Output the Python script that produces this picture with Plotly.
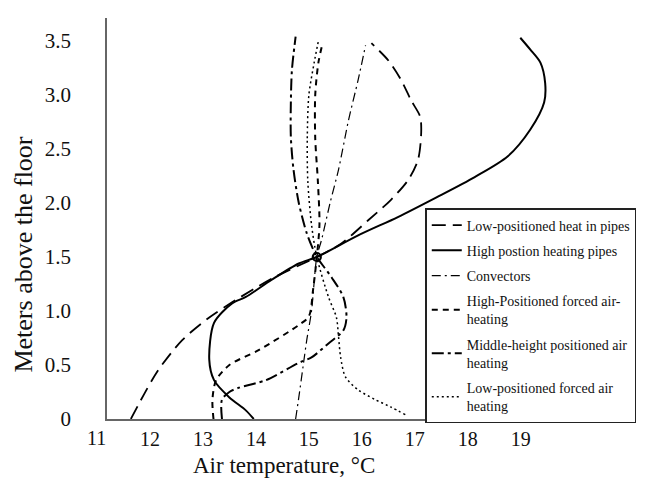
import plotly.graph_objects as go

# ---- data (air temperature in °C vs. height in m) ----
series_names = [
    "Low-positioned heat in pipes",
    "High postion heating pipes",
    "Convectors",
    "High-Positioned forced air-<br>heating",
    "Middle-height positioned air<br>heating",
    "Low-positioned forced air<br>heating",
]

low_pipes_T = [11.64, 12.14, 12.61, 13.12, 13.55, 14.3, 15.15, 15.6, 16.12, 16.55, 16.87, 17.06, 17.12, 17.1, 16.93, 16.74, 16.5, 16.18]
low_pipes_h = [0, 0.44, 0.73, 0.94, 1.08, 1.3, 1.5, 1.62, 1.84, 2.03, 2.21, 2.4, 2.65, 2.8, 2.95, 3.14, 3.32, 3.48]

high_pipes_T = [13.96, 13.81, 13.5, 13.21, 13.12, 13.21, 13.55, 13.81, 14.3, 14.81, 15.15, 15.93, 16.68, 17.4, 18.13, 18.75, 19.18, 19.44, 19.46, 19.37, 19.18, 18.99]
high_pipes_h = [0, 0.08, 0.2, 0.36, 0.55, 0.89, 1.07, 1.13, 1.29, 1.44, 1.5, 1.7, 1.87, 2.05, 2.24, 2.43, 2.68, 2.93, 3.11, 3.3, 3.42, 3.53]

convectors_T = [14.75, 14.81, 14.9, 14.96, 15.05, 15.15, 15.24, 15.4, 15.56, 15.75, 15.93, 16.07]
convectors_h = [0, 0.2, 0.52, 0.73, 1.0, 1.5, 1.66, 2.0, 2.31, 2.77, 3.14, 3.46]

high_forced_T = [13.2, 13.18, 13.25, 13.5, 14.06, 14.81, 15.0, 15.08, 15.15, 15.2, 15.17, 15.12, 15.12, 15.18, 15.26]
high_forced_h = [0, 0.18, 0.36, 0.5, 0.64, 0.87, 0.95, 1.2, 1.5, 1.8, 2.2, 2.6, 3.0, 3.3, 3.48]

middle_T = [13.36, 13.36, 13.5, 13.68, 14.19, 14.81, 15.05, 15.37, 15.65, 15.71, 15.65, 15.43, 15.15, 15.09, 14.96, 14.81, 14.71, 14.66, 14.66, 14.68, 14.75]
middle_h = [0, 0.18, 0.25, 0.29, 0.36, 0.52, 0.57, 0.70, 0.82, 0.94, 1.13, 1.31, 1.5, 1.56, 1.72, 2.0, 2.31, 2.61, 2.93, 3.23, 3.54]

low_forced_T = [16.82, 16.55, 16.25, 15.93, 15.69, 15.6, 15.56, 15.52, 15.37, 15.15, 15.05, 14.98, 14.97, 15.0, 15.1, 15.18]
low_forced_h = [0.04, 0.11, 0.18, 0.27, 0.39, 0.57, 0.76, 0.94, 1.13, 1.5, 1.8, 2.2, 2.6, 3.0, 3.3, 3.5]

meeting_T = [15.15]
meeting_h = [1.5]

x_ticks = [12, 13, 14, 15, 16, 17, 18, 19]
first_x_label = "11"
y_ticks = [0, 0.5, 1.0, 1.5, 2.0, 2.5, 3.0, 3.5]
y_ticktext = ["0", "0.5", "1.0", "1.5", "2.0", "2.5", "3.0", "3.5"]

# ---- styles ----
FONT = "Liberation Serif"
X_MIN, X_MAX = 11.19, 20.91
styles = [
    dict(width=1.8, dash="14px,7px"),
    dict(width=2.0, dash="solid"),
    dict(width=1.2, dash="9px,4px,2px,4px"),
    dict(width=2.0, dash="6px,5px"),
    dict(width=2.0, dash="12px,4px,3px,4px"),
    dict(width=1.5, dash="2px,3px"),
]
data = [
    (low_pipes_T, low_pipes_h),
    (high_pipes_T, high_pipes_h),
    (convectors_T, convectors_h),
    (high_forced_T, high_forced_h),
    (middle_T, middle_h),
    (low_forced_T, low_forced_h),
]

fig = go.Figure()
for i, (name, (tx, hy), st) in enumerate(zip(series_names, data, styles)):
    fig.add_trace(go.Scatter(
        x=tx, y=hy, name=name, mode="lines",
        line=dict(color="black", width=st["width"], dash=st["dash"], shape="spline", smoothing=0.8),
        legendgroup=f"g{i}",
    ))

fig.add_trace(go.Scatter(
    x=meeting_T, y=meeting_h, mode="markers", showlegend=False,
    marker=dict(symbol="circle-open", size=8, color="black", line=dict(width=2.2, color="black")),
))

fig.update_layout(
    width=648, height=488, autosize=False,
    margin=dict(l=107, r=23, t=18, b=69, pad=0),
    paper_bgcolor="white", plot_bgcolor="white",
    font=dict(family=FONT, color="#111"),
    showlegend=True,
    legend=dict(
        x=0.618, y=0.526, xanchor="left", yanchor="top",
        bordercolor="#222", borderwidth=1.5, bgcolor="white",
        font=dict(family=FONT, size=14, color="#111"),
        tracegroupgap=4,
    ),
)
fig.update_xaxes(
    range=[X_MIN, X_MAX], tickvals=x_ticks,
    showline=True, linecolor="#666", linewidth=1.5, mirror=False,
    showgrid=False, zeroline=False, ticks="",
    tickfont=dict(family=FONT, size=20, color="#111"),
    ticklabelstandoff=1,
)
fig.update_yaxes(
    range=[0, 3.713], tickvals=y_ticks, ticktext=y_ticktext,
    showline=True, linecolor="#666", linewidth=1.5,
    showgrid=False, zeroline=False, ticks="",
    tickfont=dict(family=FONT, size=21, color="#111"),
    ticklabelstandoff=30,
)

# the "11" label lies left of the axis line, so it is placed in paper units
x11_paper = (11 - X_MIN) / (X_MAX - X_MIN)
fig.add_annotation(x=x11_paper, y=0, xref="paper", yref="paper", text=first_x_label, showarrow=False,
                   xanchor="center", yanchor="top", yshift=-6,
                   font=dict(family=FONT, size=20, color="#111"))
fig.add_annotation(x=-0.162, y=0.409, xref="paper", yref="paper", text="Meters above the floor",
                   showarrow=False, textangle=-90, xanchor="center", yanchor="middle",
                   font=dict(family=FONT, size=26, color="#111"))
fig.add_annotation(x=0.344, y=-0.117, xref="paper", yref="paper", text="Air temperature, °C",
                   showarrow=False, xanchor="center", yanchor="middle",
                   font=dict(family=FONT, size=23, color="#111"))

fig.write_html("out.html")
